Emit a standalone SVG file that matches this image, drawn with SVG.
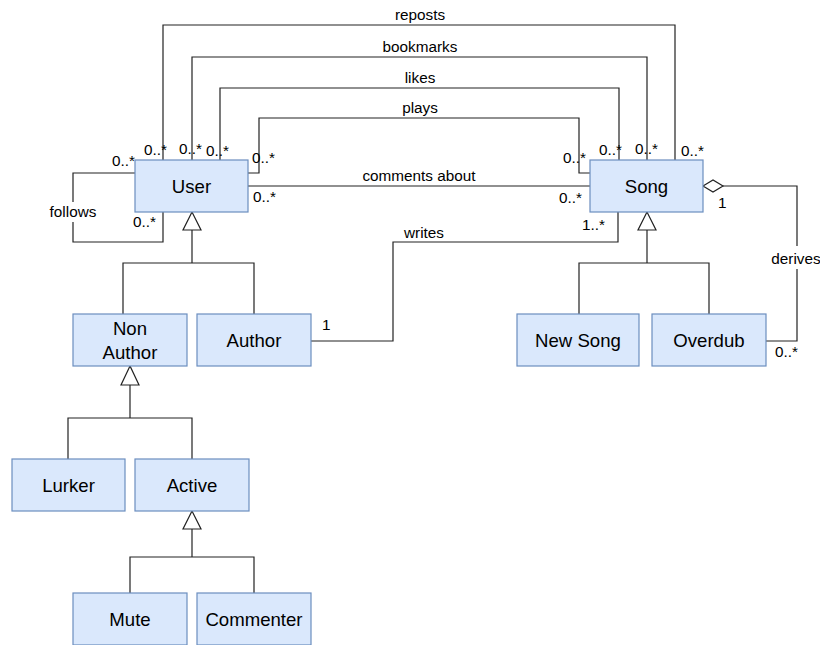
<svg xmlns="http://www.w3.org/2000/svg" width="820" height="645" viewBox="0 0 820 645">
<style>
  .box { fill: #dae8fc; stroke: #6c8ebf; stroke-width: 1.2; }
  .nt { font-family: "Liberation Sans", Arial, sans-serif; font-size: 18.6px; fill: #000; text-anchor: middle; }
  .ln { fill: none; stroke: #222; stroke-width: 1.2; }
  .tri { fill: #fff; stroke: #222; stroke-width: 1.2; }
  .lb { font-family: "Liberation Sans", Arial, sans-serif; font-size: 15.3px; fill: #000; }
  .c { text-anchor: middle; }
</style>
<rect width="820" height="645" fill="#fff"/>
<g id="connectors">
  <polyline class="ln" points="163,160 163,25 675,25 675,160"/>
  <polyline class="ln" points="192,160 192,57 647,57 647,160"/>
  <polyline class="ln" points="220,160 220,88 619,88 619,160"/>
  <polyline class="ln" points="248,173 259,173 259,118 579,118 579,173 590,173"/>
  <line class="ln" x1="248" y1="186" x2="590" y2="186"/>
  <polyline class="ln" points="311,341 393,341 393,242 618,242 618,212"/>
  <polyline class="ln" points="135,173 73,173 73,242 163,242 163,212"/>
  <polyline class="ln" points="723,186 797,186 797,341 766,341"/>
  <polygon class="tri" points="703,186 713,180 723,186 713,192"/>
  <rect x="40" y="202" width="66" height="20" fill="#fff"/>
  <rect x="771" y="246" width="49" height="23" fill="#fff"/>
  <text class="lb c" x="420" y="20">reposts</text>
  <text class="lb c" x="420" y="52">bookmarks</text>
  <text class="lb c" x="420" y="83">likes</text>
  <text class="lb c" x="420" y="113">plays</text>
  <text class="lb c" x="419" y="181">comments about</text>
  <text class="lb c" x="424" y="238">writes</text>
  <text class="lb c" x="73" y="217">follows</text>
  <text class="lb c" x="796" y="264">derives</text>
  <text class="lb" x="112" y="166">0..*</text>
  <text class="lb" x="133" y="227">0..*</text>
  <text class="lb" x="144" y="155">0..*</text>
  <text class="lb" x="179" y="154">0..*</text>
  <text class="lb" x="206" y="156">0..*</text>
  <text class="lb" x="252" y="163">0..*</text>
  <text class="lb" x="253" y="202">0..*</text>
  <text class="lb" x="563" y="163">0..*</text>
  <text class="lb" x="599" y="155">0..*</text>
  <text class="lb" x="635" y="154">0..*</text>
  <text class="lb" x="681" y="156">0..*</text>
  <text class="lb" x="559" y="203">0..*</text>
  <text class="lb" x="582" y="230">1..*</text>
  <text class="lb" x="718" y="208">1</text>
  <text class="lb" x="775" y="357">0..*</text>
  <text class="lb" x="322" y="330">1</text>
  <polyline class="ln" points="192,230 192,263"/>
  <polyline class="ln" points="123,314 123,263 254,263 254,314"/>
  <polygon class="tri" points="192,212 183,230 201,230"/>
  <polyline class="ln" points="647,230 647,263"/>
  <polyline class="ln" points="579,314 579,263 709,263 709,314"/>
  <polygon class="tri" points="647,212 638,230 656,230"/>
  <polyline class="ln" points="130,385 130,418"/>
  <polyline class="ln" points="68,459 68,418 192,418 192,459"/>
  <polygon class="tri" points="130,366 121,385 139,385"/>
  <polyline class="ln" points="192,529 192,557"/>
  <polyline class="ln" points="130,593 130,557 254,557 254,593"/>
  <polygon class="tri" points="192,511 183,529 201,529"/>
</g>
<g id="user"><rect class="box" x="135" y="160" width="113" height="52"/><text class="nt" x="191.5" y="192.5">User</text></g>
<g id="song"><rect class="box" x="590" y="160" width="113" height="52"/><text class="nt" x="646.5" y="192.5">Song</text></g>
<g id="nonauthor"><rect class="box" x="73" y="314" width="114" height="52"/><text class="nt" x="130" y="335">Non</text><text class="nt" x="130" y="359">Author</text></g>
<g id="author"><rect class="box" x="197" y="314" width="114" height="52"/><text class="nt" x="254" y="346.5">Author</text></g>
<g id="newsong"><rect class="box" x="517" y="314" width="122" height="52"/><text class="nt" x="578" y="346.5">New Song</text></g>
<g id="overdub"><rect class="box" x="652" y="314" width="114" height="52"/><text class="nt" x="709" y="346.5">Overdub</text></g>
<g id="lurker"><rect class="box" x="12" y="459" width="113" height="52"/><text class="nt" x="68.5" y="491.5">Lurker</text></g>
<g id="active"><rect class="box" x="135" y="459" width="114" height="52"/><text class="nt" x="192" y="491.5">Active</text></g>
<g id="mute"><rect class="box" x="73" y="593" width="114" height="52"/><text class="nt" x="130" y="625.5">Mute</text></g>
<g id="commenter"><rect class="box" x="197" y="593" width="114" height="52"/><text class="nt" x="254" y="625.5">Commenter</text></g>
</svg>
